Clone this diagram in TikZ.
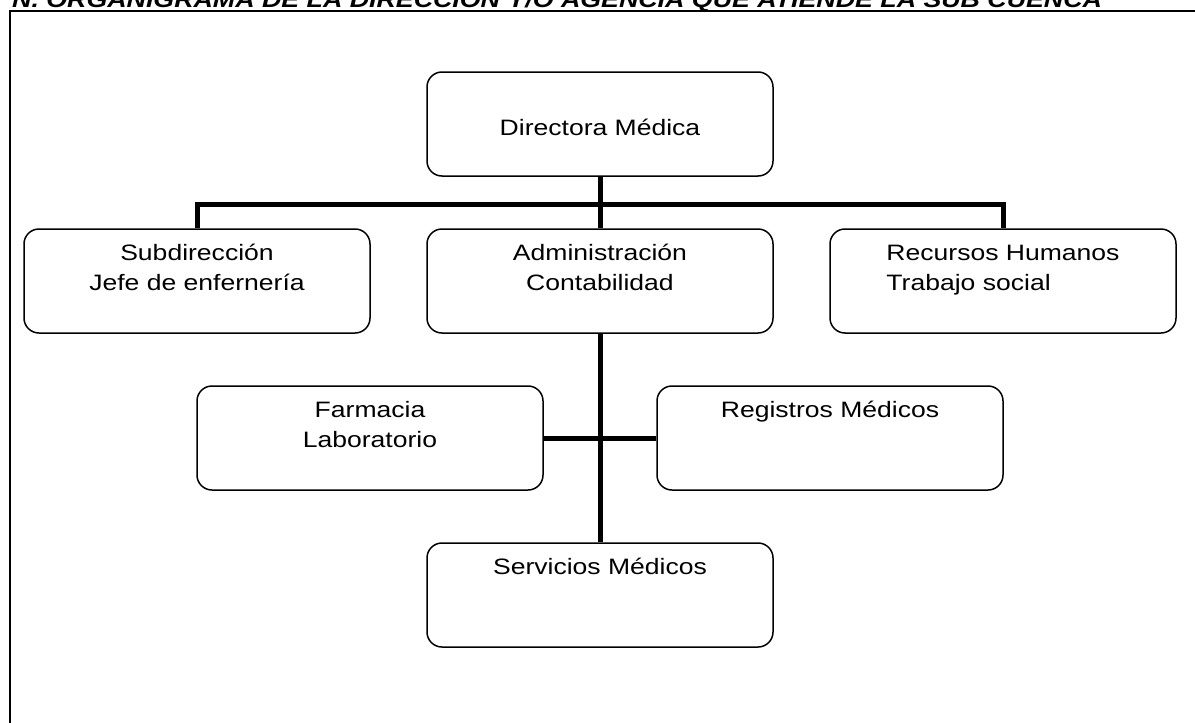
\documentclass[tikz,border=0pt]{standalone}
\usepackage{fontspec}
\setmainfont{Liberation Sans}[FakeStretch=1.19]
\usepackage{tikz}
\usetikzlibrary{positioning}
\tikzstyle{unidad} = [rectangle, rounded corners=15pt, minimum width=346pt, minimum height=104pt, inner sep=0pt, text centered, draw=black, line width=1.5pt, font=\fontsize{22.3}{30}\selectfont]
\tikzstyle{linea} = [line width=5pt]
\newcommand{\caja}[1]{\parbox[c][74pt][t]{330pt}{\centering #1}}

\begin{document}
\begin{tikzpicture}[x=1pt, y=-1pt, node distance=157pt]
		\useasboundingbox (0,0) rectangle (1195,723);
		\clip (0,0) rectangle (1195,723);
		\node (titulo) [anchor=base west, inner sep=0pt, font=\fontsize{22.5}{30}\selectfont\bfseries\itshape] at (12,7) {N. ORGANIGRAMA DE LA DIRECCIÓN Y/O AGENCIA QUE ATIENDE LA SUB CUENCA};
		\draw [line width=2pt] (10,760) -- (10,10.5) -- (1240,10.5);
		\node (dir) [unidad, text height=24pt] at (600,124) {Directora Médica};
		\node (adm) [unidad, below of=dir] {\caja{Administración\\Contabilidad}};
		\node (sub) [unidad, left of=adm, node distance=403pt] {\caja{Subdirección\\Jefe de enfernería}};
		\node (rh) [unidad, right of=adm, node distance=403pt] {\caja{\vspace{-4.5pt}\begin{tabular}[t]{@{}l@{}}Recursos Humanos\\Trabajo social\end{tabular}}};
		\node (farm) [unidad, below of=adm, xshift=-230pt] {\caja{Farmacia\\Laboratorio}};
		\node (reg) [unidad, below of=adm, xshift=230pt] {\caja{Registros Médicos}};
		\node (serv) [unidad, below of=adm, node distance=314pt] {\caja{Servicios Médicos}};
		\coordinate (bus) at (600,204);
		\draw [linea] (sub.north) |- (bus) -| (rh.north);
		\draw [linea] (dir) -- (adm);
		\draw [linea] (adm) -- (serv);
		\draw [linea] (farm) -- (reg);
\end{tikzpicture}
\end{document}
